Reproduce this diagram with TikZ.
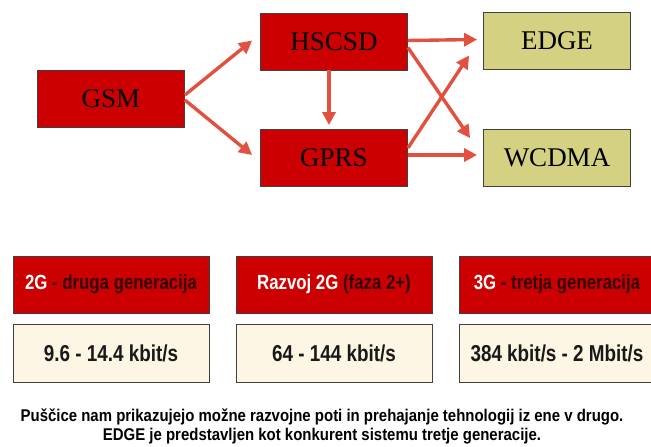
\documentclass[tikz,border=0pt]{standalone}
\usepackage{fontspec}
\setmainfont{Liberation Serif}
\newfontfamily\bn[FakeStretch=0.88]{Liberation Sans}
\newfontfamily\bnn[FakeStretch=0.82]{Liberation Sans}
\usetikzlibrary{arrows.meta}
\definecolor{boxred}{RGB}{204,0,0}
\definecolor{khaki}{RGB}{212,210,130}
\definecolor{cream}{RGB}{253,246,228}
\definecolor{arr}{RGB}{226,80,64}
\definecolor{darktxt}{RGB}{48,0,0}
\begin{document}
\begin{tikzpicture}[x=1pt,y=-1pt,
 top/.style={draw=black!75, line width=0.8pt, minimum width=147pt, minimum height=57pt, inner sep=0pt, font=\fontsize{27}{30}\selectfont},
 topred/.style={top, fill=boxred},
 topkh/.style={top, fill=khaki},
 genbox/.style={draw=black!75, line width=0.8pt, fill=boxred, minimum width=196pt, minimum height=57pt, inner sep=0pt, font=\bnn\bfseries\fontsize{20.5}{22}\selectfont, text=darktxt},
 ratebox/.style={draw=black!75, line width=0.8pt, fill=cream, minimum width=196pt, minimum height=58pt, inner sep=0pt, font=\bnn\bfseries\fontsize{23}{26}\selectfont, text=black!90},
 conn/.style={draw=arr, line width=3.4pt, -{Triangle[length=13pt,width=13pt]}},
 note/.style={font=\bn\bfseries\fontsize{17}{19}\selectfont, align=center}]
\useasboundingbox (0,0) rectangle (651,447);
\clip (0,0) rectangle (651,447);
\fill[white] (0,0) rectangle (651,447);

\node[topred] (gsm) at (111,99) {GSM};
\node[topred] (hscsd) at (334,41.5) {HSCSD};
\node[topred] (gprs) at (334,158) {GPRS};
\node[topkh] (edge) at (557,40.5) {EDGE};
\node[topkh] (wcdma) at (557,158) {WCDMA};

\draw[conn] ([yshift=4pt]gsm.east) -- ([xshift=-8pt,yshift=1pt]hscsd.west);
\draw[conn] ([yshift=-1pt]gsm.east) -- ([xshift=-8pt,yshift=3pt]gprs.west);
\draw[conn] ([xshift=-5pt]hscsd.south) -- ([xshift=-5pt,yshift=4pt]gprs.north);
\draw[conn] ([yshift=1pt]hscsd.east) -- ([xshift=-6pt,yshift=1pt]edge.west);
\draw[conn] ([yshift=3pt]gprs.east) -- ([xshift=-6pt,yshift=3pt]wcdma.west);
\draw[conn] ([yshift=-6pt]hscsd.east) -- ([xshift=-13pt,yshift=-9pt]wcdma.north west);
\draw[conn] ([yshift=10pt]gprs.east) -- ([xshift=-14pt,yshift=14pt]edge.south west);

\node[genbox] (g2) at (111,284.5) {\textcolor{white}{2G} - druga generacija};
\node[genbox] (g25) at (334,284.5) {\textcolor{white}{Razvoj 2G} (faza 2+)};
\node[genbox] (g3) at (557,284.5) {\textcolor{white}{3G} - tretja generacija};

\node[ratebox] (r2) at (111,353) {9.6 - 14.4 kbit/s};
\node[ratebox] (r25) at (334,353) {64 - 144 kbit/s};
\node[ratebox] (r3) at (557,353) {384 kbit/s - 2 Mbit/s};

\node[note] (txt) at (322,426) {Puščice nam prikazujejo možne razvojne poti in prehajanje tehnologij iz ene v drugo.\\EDGE je predstavljen kot konkurent sistemu tretje generacije.};
\end{tikzpicture}
\end{document}
